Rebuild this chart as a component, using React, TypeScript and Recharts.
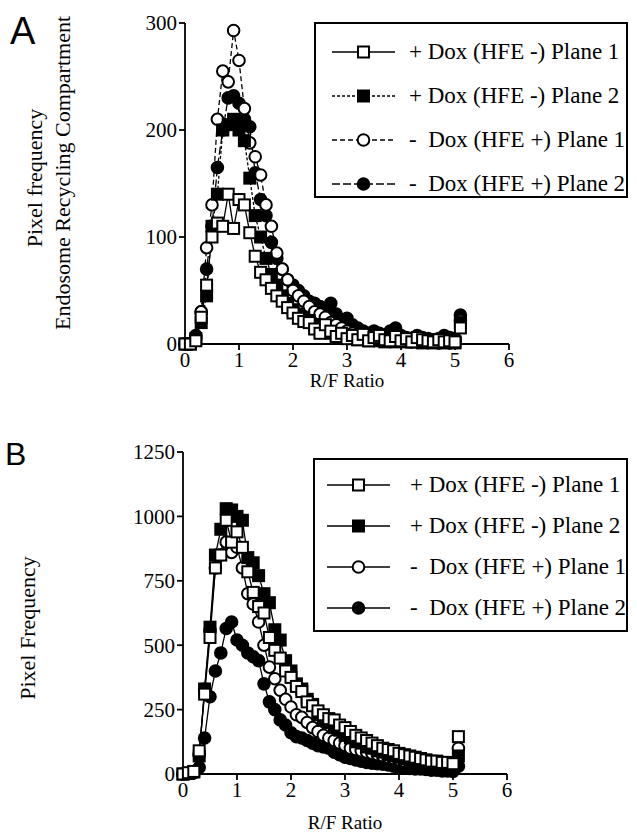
import React from 'react'
import { LineChart, Line, XAxis, YAxis } from 'recharts'

// R/F ratio bins (x positions of every point)
const ratios = [
  0, 0.1, 0.2, 0.3, 0.4, 0.5, 0.6, 0.7, 0.8, 0.9, 1.0, 1.1, 1.2, 1.3, 1.4, 1.5, 1.6, 1.7, 1.8, 1.9,
  2.0, 2.1, 2.2, 2.3, 2.4, 2.5, 2.6, 2.7, 2.8, 2.9, 3.0, 3.1, 3.2, 3.3, 3.4, 3.5, 3.6, 3.7, 3.8, 3.9,
  4.0, 4.1, 4.2, 4.3, 4.4, 4.5, 4.6, 4.7, 4.8, 4.9, 5.0, 5.1,
]

// Panel A - endosome recycling compartment
const aPlusP1 = [
  0, 0, 3, 25, 55, 100, 113, 110, 140, 108, 135, 130, 104, 82, 67, 60, 52, 45, 40, 34,
  29, 24, 21, 20, 14, 10, 18, 12, 7, 10, 5, 8, 4, 9, 3, 6, 8, 4, 3, 7,
  3, 5, 2, 6, 4, 3, 2, 4, 2, 3, 2, 15,
]
const aPlusP2 = [
  0, 0, 5, 20, 45, 110, 140, 200, 205, 210, 200, 190, 155, 120, 100, 80, 65, 55, 45, 38,
  32, 28, 25, 22, 18, 15, 12, 10, 8, 8, 6, 5, 4, 5, 3, 4, 3, 2, 4, 2,
  3, 2, 2, 3, 1, 2, 1, 2, 1, 2, 1, 20,
]
const aMinusP1 = [
  0, 0, 5, 30, 90, 130, 210, 255, 245, 293, 265, 220, 188, 175, 158, 130, 110, 85, 70, 60,
  50, 45, 40, 35, 30, 28, 25, 20, 18, 15, 12, 10, 8, 8, 6, 5, 5, 4, 4, 3,
  3, 3, 2, 2, 2, 2, 2, 1, 2, 1, 2, 22,
]
const aMinusP2 = [
  0, 0, 8, 30, 70, 110, 165, 200, 230, 232, 225, 210, 203, 160, 135, 120, 95, 80, 70, 60,
  55, 50, 45, 40, 38, 35, 30, 38, 28, 22, 24, 18, 15, 12, 10, 12, 10, 8, 12, 15,
  8, 6, 5, 8, 6, 5, 4, 5, 8, 6, 5, 27,
]

// Panel B
const bPlusP1 = [
  0, 5, 10, 90, 310, 530, 800, 850, 985, 900, 940, 880, 785, 705, 650, 625, 530, 480, 450, 400,
  375, 340, 320, 280, 265, 245, 230, 215, 210, 190, 180, 165, 150, 140, 130, 120, 110, 100, 95, 90,
  80, 75, 70, 65, 60, 55, 50, 50, 45, 45, 40, 145,
]
const bPlusP2 = [
  0, 2, 8, 70, 330, 570, 850, 950, 1030, 1025, 1000, 985, 840, 820, 770, 700, 665, 560, 520, 440,
  400, 350, 330, 290, 270, 230, 210, 200, 180, 170, 150, 140, 125, 120, 105, 100, 90, 85, 75, 70,
  65, 60, 55, 50, 45, 42, 40, 38, 35, 33, 30, 70,
]
const bMinusP1 = [
  0, 2, 5, 75, 330, 560, 800, 850, 900, 860, 880, 800, 700, 660, 590, 500, 415, 370, 325, 290,
  260, 230, 220, 200, 180, 165, 150, 140, 130, 120, 110, 100, 95, 90, 85, 80, 75, 70, 65, 60,
  55, 50, 48, 45, 42, 40, 38, 35, 35, 30, 30, 100,
]
const bMinusP2 = [
  0, 2, 5, 25, 140, 300, 400, 470, 565, 590, 520, 500, 470, 455, 440, 350, 280, 250, 210, 190,
  160, 145, 140, 130, 120, 110, 105, 100, 85, 75, 65, 60, 55, 50, 45, 42, 40, 38, 35, 30,
  25, 25, 22, 20, 20, 18, 15, 15, 12, 12, 10, 30,
]

const xTicks = [0, 1, 2, 3, 4, 5, 6]
const aTicks = [0, 100, 200, 300]
const bTicks = [0, 250, 500, 750, 1000, 1250]

const seriesNames = [
  '+ Dox (HFE -) Plane 1',
  '+ Dox (HFE -) Plane 2',
  '-  Dox (HFE +) Plane 1',
  '-  Dox (HFE +) Plane 2',
]

const dataA = ratios.map((r, i) => ({ r, s1: aPlusP1[i], s2: aPlusP2[i], s3: aMinusP1[i], s4: aMinusP2[i] }))
const dataB = ratios.map((r, i) => ({ r, s1: bPlusP1[i], s2: bPlusP2[i], s3: bMinusP1[i], s4: bMinusP2[i] }))

const serif = 'Liberation Serif'

type Shape = 'square' | 'circle'

function Marker({ cx, cy, shape, filled }: { cx: number; cy: number; shape: Shape; filled: boolean }) {
  if (cx == null || cy == null) return null
  const fill = filled ? '#000' : '#fff'
  if (shape === 'square') {
    return <rect x={cx - 5.5} y={cy - 5.5} width={11} height={11} fill={fill} stroke="#000" strokeWidth={2} />
  }
  return <circle cx={cx} cy={cy} r={5.8} fill={fill} stroke="#000" strokeWidth={2} />
}

const styles: { key: string; shape: Shape; filled: boolean }[] = [
  { key: 's1', shape: 'square', filled: false },
  { key: 's2', shape: 'square', filled: true },
  { key: 's3', shape: 'circle', filled: false },
  { key: 's4', shape: 'circle', filled: true },
]

function LegendBox({ dashes, left, top, width, height, lineX1, lineX2, textX, padTop, gap }: any) {
  return (
    <div
      className="serif"
      style={{
        position: 'absolute',
        left,
        top,
        width,
        height,
        border: '2px solid #000',
        background: '#fff',
        paddingTop: padTop,
        fontSize: 23,
        boxSizing: 'border-box',
      }}
    >
      {styles.map((s, i) => (
        <div key={s.key} style={{ position: 'relative', height: 24, marginBottom: i < 3 ? gap : 0 }}>
          <svg width={90} height={24} style={{ position: 'absolute', left: 0, top: 0 }}>
            <line x1={lineX1} x2={lineX2} y1={12} y2={12} stroke="#000" strokeWidth={1.5} strokeDasharray={dashes[i]} />
            <Marker cx={(lineX1 + lineX2) / 2} cy={12} shape={s.shape} filled={s.filled} />
          </svg>
          <span style={{ position: 'absolute', left: textX, top: 0, lineHeight: '24px', whiteSpace: 'pre' }}>
            {seriesNames[i]}
          </span>
        </div>
      ))}
    </div>
  )
}

const drawOrder = [3, 2, 1, 0]

function Panel({ data, ticks, max, dashes, margin, xAxisHeight, height }: any) {
  return (
    <LineChart width={637} height={height} data={data} margin={margin}>
      <XAxis
        dataKey="r"
        type="number"
        domain={[0, 6]}
        ticks={xTicks}
        tickSize={6}
        height={xAxisHeight}
        stroke="#000"
        strokeWidth={1.8}
        tick={{ fill: '#000', fontFamily: serif, fontSize: 21 }}
        label={{ value: 'R/F Ratio', position: 'insideBottom', offset: 5, fill: '#000', fontFamily: serif, fontSize: 19 }}
      />
      <YAxis
        type="number"
        domain={[0, max]}
        ticks={ticks}
        tickSize={6}
        width={60}
        stroke="#000"
        strokeWidth={1.8}
        tick={{ fill: '#000', fontFamily: serif, fontSize: 21 }}
      />
      {drawOrder.map((i) => {
        const s = styles[i]
        return (
          <Line
            key={s.key}
            dataKey={s.key}
            name={seriesNames[i]}
            type="linear"
            stroke="#000"
            strokeWidth={1.3}
            strokeDasharray={dashes[i]}
            isAnimationActive={false}
            dot={(p: any) => <Marker key={`${s.key}-${p.index}`} cx={p.cx} cy={p.cy} shape={s.shape} filled={s.filled} />}
            activeDot={false}
          />
        )
      })}
    </LineChart>
  )
}

const dashesA = [undefined, '3 2', '5 3', '8 3']
const dashesB = [undefined, undefined, undefined, undefined]

function VLabel({ x, y, text, size }: { x: number; y: number; text: string; size: number }) {
  return (
    <div
      className="serif"
      style={{
        position: 'absolute',
        left: x,
        top: y,
        transform: 'translate(-50%, -50%) rotate(-90deg)',
        whiteSpace: 'nowrap',
        fontSize: size,
        lineHeight: 1,
      }}
    >
      {text}
    </div>
  )
}

export default function App() {
  return (
    <div style={{ position: 'relative', width: 637, height: 839, background: '#fff', overflow: 'hidden' }}>
      <style>{`body{margin:0} .serif, .serif *, svg text{font-family:'Liberation Serif','Times New Roman',serif !important}`}</style>
      <div style={{ position: 'absolute', left: 0, top: 0 }}>
        <Panel
          data={dataA}
          ticks={aTicks}
          max={300}
          dashes={dashesA}
          height={420}
          margin={{ top: 23, right: 128, left: 125, bottom: 28 }}
          xAxisHeight={48}
        />
      </div>
      <div style={{ position: 'absolute', left: 0, top: 420 }}>
        <Panel
          data={dataB}
          ticks={bTicks}
          max={1250}
          dashes={dashesB}
          height={419}
          margin={{ top: 32, right: 130, left: 123, bottom: 5 }}
          xAxisHeight={60}
        />
      </div>
      <LegendBox dashes={dashesA} left={314} top={22} width={314} height={176} lineX1={16} lineX2={79} textX={93} padTop={16} gap={20} />
      <LegendBox dashes={dashesB} left={313} top={458} width={315} height={174} lineX1={12} lineX2={75} textX={95} padTop={13} gap={17} />
      <div style={{ position: 'absolute', left: 10, top: 12, fontFamily: '"Liberation Sans", Arial, sans-serif', fontSize: 38, lineHeight: 1 }}>A</div>
      <div style={{ position: 'absolute', left: 5, top: 438, fontFamily: '"Liberation Sans", Arial, sans-serif', fontSize: 32, lineHeight: 1 }}>B</div>
      <VLabel x={35} y={178} text="Pixel frequency" size={22} />
      <VLabel x={63} y={173} text="Endosome Recycling Compartment" size={22} />
      <VLabel x={28} y={628} text="Pixel Frequency" size={22} />
    </div>
  )
}
